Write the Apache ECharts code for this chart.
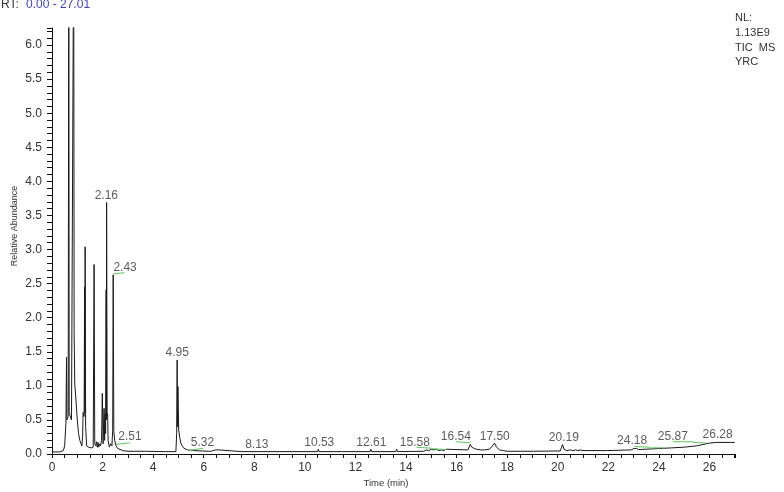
<!DOCTYPE html>
<html lang="en">
<head>
  <meta charset="UTF-8">
  <title>TIC</title>
  <script src="https://cdn.jsdelivr.net/npm/echarts@6/dist/echarts.min.js"></script>
  <style>
    body { margin: 0; background: #fff; }
    #main { width: 784px; height: 492px; }
  </style>
</head>
<body>
<div id="main"></div>
<script type="text/javascript">
  // retention time (min) and relative abundance
  var rt = [0.00, 0.30, 0.45, 0.50, 0.55, 0.575, 0.59, 0.64, 0.665, 0.68, 0.77, 0.855, 0.865, 0.875, 0.90, 0.95,
    1.00, 1.05, 1.10, 1.18, 1.21, 1.23, 1.27, 1.29, 1.30, 1.31, 1.33, 1.37, 1.45, 1.55, 1.63, 1.665, 1.69,
    1.73, 1.76, 1.79, 1.82, 1.85, 1.88, 1.92, 1.96, 1.99, 2.02, 2.06, 2.08, 2.10, 2.12, 2.14, 2.15, 2.16,
    2.18, 2.20, 2.22, 2.27, 2.32, 2.37, 2.40, 2.42, 2.445, 2.48, 2.53, 2.60, 2.80, 3.00, 3.25, 3.28, 3.31,
    3.66, 3.69, 3.72, 4.50, 4.90, 4.93, 4.95, 4.96, 4.98, 5.01, 5.05, 5.10, 5.20, 5.35, 5.60, 6.20, 6.25,
    6.30, 6.45, 6.50, 6.60, 6.65, 7.50, 8.10, 8.13, 8.16, 10.50, 10.53, 10.56, 11.45, 11.48, 11.51, 11.75,
    11.78, 11.81, 12.58, 12.61, 12.64, 13.60, 13.63, 13.66, 14.70, 14.80, 14.90, 15.00, 15.10, 15.20, 15.30,
    15.40, 15.50, 15.58, 15.65, 16.45, 16.54, 16.60, 16.70, 16.80, 16.95, 17.10, 17.30, 17.42, 17.50, 17.58,
    17.70, 17.85, 18.00, 19.05, 19.08, 19.11, 20.10, 20.19, 20.25, 20.35, 20.50, 20.60, 20.70, 20.80, 20.90,
    21.00, 21.97, 22.00, 22.03, 22.90, 23.00, 23.05, 23.12, 23.20, 24.00, 24.50, 25.00, 25.50, 26.00, 26.28,
    27.00];
  var abund = [0.03, 0.03, 0.05, 0.12, 0.45, 1.42, 0.50, 0.55, 7.50, 0.60, 0.50, 7.50, 5.40, 1.80, 1.03, 0.78,
    0.50, 0.30, 0.20, 0.12, 0.25, 0.61, 0.55, 2.45, 0.60, 3.04, 0.40, 0.12, 0.10, 0.09, 0.10, 2.78, 0.15,
    0.12, 0.18, 0.10, 0.17, 0.10, 0.15, 0.12, 0.20, 0.89, 0.15, 0.67, 0.20, 0.59, 0.30, 2.41, 0.50, 3.69,
    0.55, 0.59, 0.20, 0.10, 0.15, 0.12, 0.35, 2.63, 0.33, 0.20, 0.12, 0.08, 0.05, 0.04, 0.04, 0.06, 0.04,
    0.04, 0.06, 0.04, 0.035, 0.035, 0.30, 1.38, 0.40, 0.99, 0.35, 0.25, 0.15, 0.09, 0.06, 0.05, 0.04, 0.06,
    0.04, 0.06, 0.04, 0.06, 0.04, 0.035, 0.035, 0.06, 0.035, 0.035, 0.07, 0.035, 0.035, 0.06, 0.035, 0.035,
    0.06, 0.035, 0.035, 0.07, 0.035, 0.035, 0.07, 0.035, 0.04, 0.06, 0.05, 0.07, 0.06, 0.07, 0.05,
    0.06, 0.05, 0.07, 0.06, 0.06, 0.14, 0.10, 0.08, 0.07, 0.06, 0.06, 0.07, 0.12, 0.16, 0.10,
    0.06, 0.05, 0.04, 0.04, 0.06, 0.04, 0.045, 0.14, 0.07, 0.05, 0.06, 0.05, 0.06, 0.05, 0.06,
    0.05, 0.05, 0.065, 0.05, 0.06, 0.08, 0.06, 0.08, 0.065, 0.08, 0.09, 0.10, 0.12, 0.16, 0.17,
    0.17];

  // peak labels: text, and where the text sits (min, abundance)
  var peakNames = ['2.16', '2.43', '2.51', '4.95', '5.32', '8.13', '10.53', '12.61', '15.58', '16.54',
    '17.50', '20.19', '24.18', '25.87', '26.28'];
  var peakLabelX = [2.15, 2.89, 3.08, 4.95, 5.95, 8.10, 10.57, 12.63, 14.35, 15.97, 17.51, 20.24, 22.94, 24.55, 26.32];
  var peakLabelY = [3.79, 2.74, 0.26, 1.49, 0.16, 0.14, 0.17, 0.17, 0.17, 0.26, 0.26, 0.24, 0.19, 0.26, 0.28];

  // green integration baselines: [t1, v1, t2, v2]
  var baseSegs = [
    [2.43, 2.64, 2.87, 2.66],
    [2.53, 0.14, 3.08, 0.165],
    [5.39, 0.05, 5.98, 0.085],
    [14.41, 0.10, 15.00, 0.085],
    [15.00, 0.077, 15.60, 0.066],
    [15.96, 0.18, 16.55, 0.165],
    [23.04, 0.11, 23.66, 0.10],
    [23.66, 0.09, 24.23, 0.09],
    [24.56, 0.18, 25.35, 0.18],
    [25.35, 0.17, 25.88, 0.16]
  ];

  var xLabels = [0, 2, 4, 6, 8, 10, 12, 14, 16, 18, 20, 22, 24, 26];
  var yLabels = [0, 0.5, 1.0, 1.5, 2.0, 2.5, 3.0, 3.5, 4.0, 4.5, 5.0, 5.5, 6.0];

  var font = 'Liberation Sans, Arial, sans-serif';
  var myChart = echarts.init(document.getElementById('main'));

  var trace = [];
  for (let i = 0; i < rt.length; i++) {
    trace.push([rt[i], abund[i]]);
  }
  var labelData = [];
  for (let i = 0; i < peakNames.length; i++) {
    labelData.push([peakLabelX[i], peakLabelY[i], peakNames[i]]);
  }

  var series = [
    {
      name: 'TIC',
      type: 'line',
      data: trace,
      symbol: 'none',
      lineStyle: { color: '#1a1a1a', width: 1 },
      clip: true,
      z: 3
    },
    {
      name: 'labels',
      type: 'scatter',
      data: labelData,
      symbolSize: 1,
      itemStyle: { color: 'rgba(0,0,0,0)' },
      label: {
        show: true,
        position: 'inside',
        color: '#333',
        fontFamily: font,
        fontSize: 12,
        formatter: function (p) { return p.data[2]; }
      },
      z: 5
    }
  ];
  for (let i = 0; i < baseSegs.length; i++) {
    var s = baseSegs[i];
    series.push({
      type: 'line',
      data: [[s[0], s[1]], [s[2], s[3]]],
      symbol: 'none',
      lineStyle: { color: '#5cc85c', width: 1 },
      z: 4
    });
  }

  var option = {
    animation: false,
    backgroundColor: '#fff',
    grid: { left: 52, right: 49, top: 28, bottom: 38 },
    xAxis: {
      type: 'value',
      min: 0,
      max: 27.01,
      interval: 0.5,
      axisLine: { onZero: false, lineStyle: { color: '#111', width: 1 } },
      axisTick: { show: true, inside: false, length: 4, lineStyle: { color: '#111' } },
      axisLabel: {
        customValues: xLabels,
        margin: 8,
        color: '#333',
        fontSize: 12,
        fontFamily: font
      },
      splitLine: { show: false }
    },
    yAxis: {
      type: 'value',
      min: 0,
      max: 6.25,
      interval: 0.1,
      axisLine: { show: true, lineStyle: { color: '#111', width: 1 } },
      axisTick: { show: true, length: 5, lineStyle: { color: '#111' } },
      axisLabel: {
        customValues: yLabels,
        margin: 10,
        color: '#333',
        fontSize: 12,
        fontFamily: font,
        formatter: function (v) { return v.toFixed(1); }
      },
      splitLine: { show: false }
    },
    graphic: [
      {
        type: 'text',
        x: 1,
        y: 5,
        style: {
          text: 'RT:',
          fill: '#333',
          fontSize: 12,
          fontFamily: font,
          align: 'left',
          verticalAlign: 'middle'
        }
      },
      {
        type: 'text',
        x: 26,
        y: 5,
        style: {
          text: '0.00 - 27.01',
          fill: '#3c3cc8',
          fontSize: 12,
          fontFamily: font,
          align: 'left',
          verticalAlign: 'middle'
        }
      },
      {
        type: 'text',
        x: 15,
        y: 226,
        rotation: Math.PI / 2,
        style: {
          text: 'Relative Abundance',
          fill: '#333',
          fontSize: 9,
          fontFamily: font,
          align: 'center',
          verticalAlign: 'middle'
        }
      },
      {
        type: 'text',
        x: 386,
        y: 483,
        style: {
          text: 'Time (min)',
          fill: '#333',
          fontSize: 9.5,
          fontFamily: font,
          align: 'center',
          verticalAlign: 'middle'
        }
      },
      {
        type: 'text',
        left: 735,
        top: 11,
        style: {
          text: 'NL:\n1.13E9\nTIC  MS\nYRC',
          fill: '#333',
          fontSize: 11,
          lineHeight: 14.7,
          fontFamily: font
        }
      }
    ],
    series: series
  };
  myChart.setOption(option);
</script>
</body>
</html>
